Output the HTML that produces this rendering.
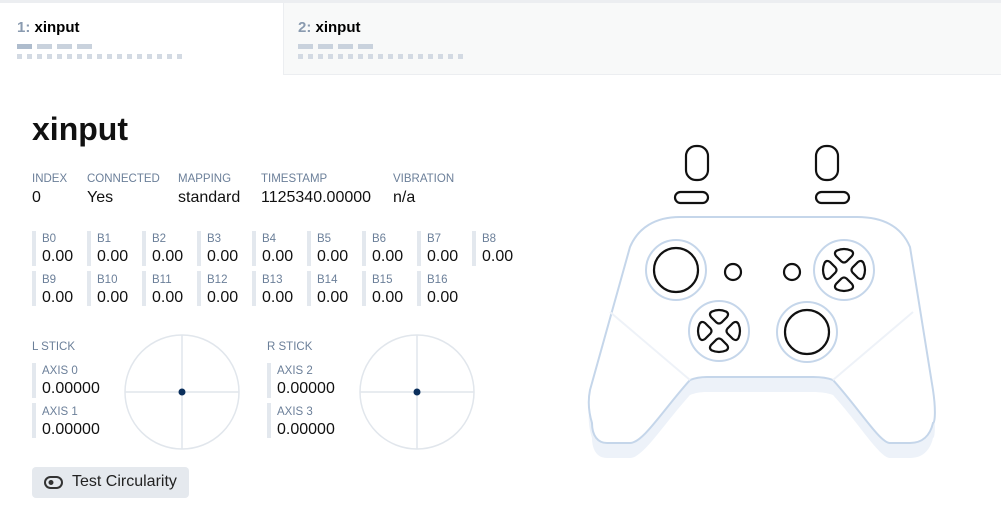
<!DOCTYPE html>
<html><head><meta charset="utf-8"><style>
*{margin:0;padding:0;box-sizing:border-box}
body{width:1001px;height:530px;background:#fff;font-family:"Liberation Sans",sans-serif;position:relative;overflow:hidden}
.a{position:absolute;white-space:nowrap}
.lab{font-size:11.5px;color:#6b7f99}
.val{font-size:16px;color:#111}
.bar{position:absolute;width:4px;background:#e3e8ee}
</style></head><body>
<div class="a" style="left:0;top:0;width:1001px;height:3px;background:#eceef1"></div>
<div class="a" style="left:283px;top:3px;width:718px;height:72px;background:#f8f9f9;border-left:1px solid #eceef1;border-bottom:1px solid #eceef1"></div>
<div class="a" style="left:17px;top:19px;font-size:15px;font-weight:bold"><span style="color:#8a9bb0">1:</span> xinput</div>
<div class="a" style="left:298px;top:19px;font-size:15px;font-weight:bold"><span style="color:#8a9bb0">2:</span> xinput</div>
<svg class="a" style="left:0;top:0" width="1001" height="80">
<g fill="#c9d2dd">
<rect x="17" y="44" width="15" height="5" fill="#aebccd"/><rect x="37" y="44" width="15" height="5"/><rect x="57" y="44" width="15" height="5"/><rect x="77" y="44" width="15" height="5"/>
<rect x="298" y="44" width="15" height="5"/><rect x="318" y="44" width="15" height="5"/><rect x="338" y="44" width="15" height="5"/><rect x="358" y="44" width="15" height="5"/>
</g>
<g fill="#d3dae3">
<path d="M17 54h5v5h-5zM27 54h5v5h-5zM37 54h5v5h-5zM47 54h5v5h-5zM57 54h5v5h-5zM67 54h5v5h-5zM77 54h5v5h-5zM87 54h5v5h-5zM97 54h5v5h-5zM107 54h5v5h-5zM117 54h5v5h-5zM127 54h5v5h-5zM137 54h5v5h-5zM147 54h5v5h-5zM157 54h5v5h-5zM167 54h5v5h-5zM177 54h5v5h-5z"/>
<path transform="translate(281,0)" d="M17 54h5v5h-5zM27 54h5v5h-5zM37 54h5v5h-5zM47 54h5v5h-5zM57 54h5v5h-5zM67 54h5v5h-5zM77 54h5v5h-5zM87 54h5v5h-5zM97 54h5v5h-5zM107 54h5v5h-5zM117 54h5v5h-5zM127 54h5v5h-5zM137 54h5v5h-5zM147 54h5v5h-5zM157 54h5v5h-5zM167 54h5v5h-5zM177 54h5v5h-5z"/>
</g></svg>

<div class="a" style="left:32px;top:111px;font-size:32px;font-weight:bold;color:#111">xinput</div>
<div class="a lab" style="left:32px;top:173px">INDEX</div><div class="a val" style="left:32px;top:189px">0</div>
<div class="a lab" style="left:87px;top:173px">CONNECTED</div><div class="a val" style="left:87px;top:189px">Yes</div>
<div class="a lab" style="left:178px;top:173px">MAPPING</div><div class="a val" style="left:178px;top:189px">standard</div>
<div class="a lab" style="left:261px;top:173px">TIMESTAMP</div><div class="a val" style="left:261px;top:189px">1125340.00000</div>
<div class="a lab" style="left:393px;top:173px">VIBRATION</div><div class="a val" style="left:393px;top:189px">n/a</div>

<div class="bar" style="left:32px;top:231px;height:35px"></div><div class="a lab" style="left:42px;top:233px">B0</div><div class="a val" style="left:42px;top:248px">0.00</div>
<div class="bar" style="left:87px;top:231px;height:35px"></div><div class="a lab" style="left:97px;top:233px">B1</div><div class="a val" style="left:97px;top:248px">0.00</div>
<div class="bar" style="left:142px;top:231px;height:35px"></div><div class="a lab" style="left:152px;top:233px">B2</div><div class="a val" style="left:152px;top:248px">0.00</div>
<div class="bar" style="left:197px;top:231px;height:35px"></div><div class="a lab" style="left:207px;top:233px">B3</div><div class="a val" style="left:207px;top:248px">0.00</div>
<div class="bar" style="left:252px;top:231px;height:35px"></div><div class="a lab" style="left:262px;top:233px">B4</div><div class="a val" style="left:262px;top:248px">0.00</div>
<div class="bar" style="left:307px;top:231px;height:35px"></div><div class="a lab" style="left:317px;top:233px">B5</div><div class="a val" style="left:317px;top:248px">0.00</div>
<div class="bar" style="left:362px;top:231px;height:35px"></div><div class="a lab" style="left:372px;top:233px">B6</div><div class="a val" style="left:372px;top:248px">0.00</div>
<div class="bar" style="left:417px;top:231px;height:35px"></div><div class="a lab" style="left:427px;top:233px">B7</div><div class="a val" style="left:427px;top:248px">0.00</div>
<div class="bar" style="left:472px;top:231px;height:35px"></div><div class="a lab" style="left:482px;top:233px">B8</div><div class="a val" style="left:482px;top:248px">0.00</div>
<div class="bar" style="left:32px;top:271px;height:35px"></div><div class="a lab" style="left:42px;top:274px">B9</div><div class="a val" style="left:42px;top:289px">0.00</div>
<div class="bar" style="left:87px;top:271px;height:35px"></div><div class="a lab" style="left:97px;top:274px">B10</div><div class="a val" style="left:97px;top:289px">0.00</div>
<div class="bar" style="left:142px;top:271px;height:35px"></div><div class="a lab" style="left:152px;top:274px">B11</div><div class="a val" style="left:152px;top:289px">0.00</div>
<div class="bar" style="left:197px;top:271px;height:35px"></div><div class="a lab" style="left:207px;top:274px">B12</div><div class="a val" style="left:207px;top:289px">0.00</div>
<div class="bar" style="left:252px;top:271px;height:35px"></div><div class="a lab" style="left:262px;top:274px">B13</div><div class="a val" style="left:262px;top:289px">0.00</div>
<div class="bar" style="left:307px;top:271px;height:35px"></div><div class="a lab" style="left:317px;top:274px">B14</div><div class="a val" style="left:317px;top:289px">0.00</div>
<div class="bar" style="left:362px;top:271px;height:35px"></div><div class="a lab" style="left:372px;top:274px">B15</div><div class="a val" style="left:372px;top:289px">0.00</div>
<div class="bar" style="left:417px;top:271px;height:35px"></div><div class="a lab" style="left:427px;top:274px">B16</div><div class="a val" style="left:427px;top:289px">0.00</div>

<div class="a lab" style="left:32px;top:341px">L STICK</div>
<div class="bar" style="left:32px;top:363px;height:35px"></div><div class="a lab" style="left:42px;top:365px">AXIS 0</div><div class="a val" style="left:42px;top:380px">0.00000</div>
<div class="bar" style="left:32px;top:403px;height:35px"></div><div class="a lab" style="left:42px;top:406px">AXIS 1</div><div class="a val" style="left:42px;top:421px">0.00000</div>
<div class="a lab" style="left:267px;top:341px">R STICK</div>
<div class="bar" style="left:267px;top:363px;height:35px"></div><div class="a lab" style="left:277px;top:365px">AXIS 2</div><div class="a val" style="left:277px;top:380px">0.00000</div>
<div class="bar" style="left:267px;top:403px;height:35px"></div><div class="a lab" style="left:277px;top:406px">AXIS 3</div><div class="a val" style="left:277px;top:421px">0.00000</div>

<div class="a" style="left:32px;top:467px;width:157px;height:31px;background:#e5e9ee;border-radius:4px"></div>
<div class="a" style="left:72px;top:473px;font-size:16px;color:#222">Test Circularity</div>

<svg class="a" style="left:0;top:0" width="1001" height="530">
<defs><path id="pt" d="M-7,-19.5 Q0,-22.5 7,-19.5 Q10.5,-17.5 8,-14 L2.5,-8.5 Q0,-6.5 -2.5,-8.5 L-8,-14 Q-10.5,-17.5 -7,-19.5 Z"/></defs>
<g stroke="#e1e6ec" stroke-width="1.5" fill="none">
<circle cx="182" cy="392" r="57"/><line x1="125" y1="392" x2="239" y2="392"/><line x1="182" y1="335" x2="182" y2="449"/>
<circle cx="417" cy="392" r="57"/><line x1="360" y1="392" x2="474" y2="392"/><line x1="417" y1="335" x2="417" y2="449"/>
</g>
<circle cx="182" cy="392" r="3.5" fill="#0b2f5c"/><circle cx="417" cy="392" r="3.5" fill="#0b2f5c"/>
<rect x="45" y="477" width="17" height="11" rx="5.5" fill="none" stroke="#333" stroke-width="2"/><circle cx="51" cy="482.5" r="2.5" fill="#333"/>

<path transform="translate(0,15)" d="M680 217 L857 217 C885 217 902 228 910 247 L933 390 C936 410 935 423 933 423 C930 436 922 443 910 443 L890 443 C880 443 860 410 833 380 C828 378 820 377 813 377 L707 377 C700 377 695 378 690 380 C663 410 643 443 630 443 L607 443 C598 443 592 436 592 423 C588 410 588 400 590 390 L630 247 C638 228 655 217 680 217 Z" fill="#edf2f9"/>
<path d="M680 217 L857 217 C885 217 902 228 910 247 L933 390 C936 410 935 423 933 423 C930 436 922 443 910 443 L890 443 C880 443 860 410 833 380 C828 378 820 377 813 377 L707 377 C700 377 695 378 690 380 C663 410 643 443 630 443 L607 443 C598 443 592 436 592 423 C588 410 588 400 590 390 L630 247 C638 228 655 217 680 217 Z" fill="#fff" stroke="#c5d6ea" stroke-width="2"/>
<line x1="610" y1="312" x2="690" y2="380" stroke="#eef2f8" stroke-width="2"/>
<line x1="913" y1="312" x2="833" y2="380" stroke="#eef2f8" stroke-width="2"/>
<g fill="none" stroke="#c5d6ea" stroke-width="2">
<circle cx="676" cy="270" r="30"/><circle cx="844" cy="270" r="30"/><circle cx="719" cy="331" r="30"/><circle cx="807" cy="332" r="30"/>
</g>
<g fill="none" stroke="#111" stroke-width="2.2">
<circle cx="676" cy="270" r="22"/><circle cx="807" cy="332" r="22"/>
<circle cx="733" cy="272" r="8"/><circle cx="792" cy="272" r="8"/>
<rect x="686" y="146" width="22" height="34" rx="10"/><rect x="816" y="146" width="22" height="34" rx="10"/>
<rect x="675" y="192" width="33" height="11" rx="5.5"/><rect x="816" y="192" width="33" height="11" rx="5.5"/>
<g transform="translate(844,270)">
<use href="#pt"/><use href="#pt" transform="rotate(90)"/><use href="#pt" transform="rotate(180)"/><use href="#pt" transform="rotate(270)"/>
</g>
<g transform="translate(719,331)">
<use href="#pt"/><use href="#pt" transform="rotate(90)"/><use href="#pt" transform="rotate(180)"/><use href="#pt" transform="rotate(270)"/>
</g>
</g>
</svg>
</body></html>
